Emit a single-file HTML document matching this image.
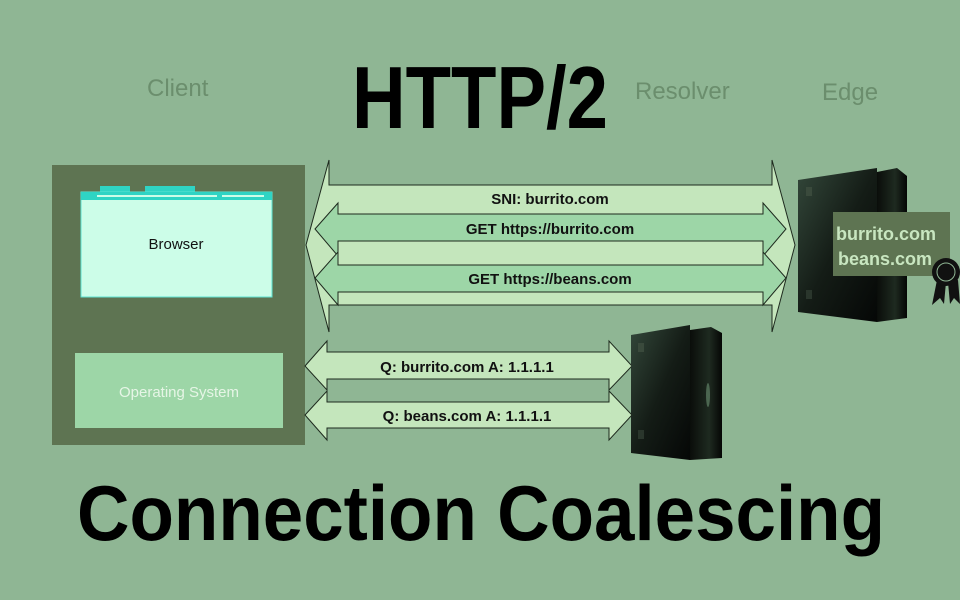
<!DOCTYPE html>
<html><head><meta charset="utf-8"><style>
html,body{margin:0;padding:0;background:#8fb694;}
svg{display:block}
</style></head><body>
<svg width="960" height="600" viewBox="0 0 960 600" xmlns="http://www.w3.org/2000/svg">
<defs>
<linearGradient id="srv" x1="0" y1="0" x2="1" y2="1">
<stop offset="0" stop-color="#33473a"/><stop offset="0.5" stop-color="#141c16"/><stop offset="1" stop-color="#050706"/>
</linearGradient>
<linearGradient id="side" x1="0" y1="0" x2="1" y2="0">
<stop offset="0" stop-color="#0a0d0a"/><stop offset="0.6" stop-color="#1e2a20"/><stop offset="1" stop-color="#050605"/>
</linearGradient>
</defs>
<rect width="960" height="600" fill="#8fb694"/>
<g font-family="Liberation Sans, sans-serif" fill="#6b8e6d" font-size="24">
<text x="147" y="96">Client</text>
<text x="635" y="99">Resolver</text>
<text x="822" y="100">Edge</text>
</g>
<text x="352" y="128" font-family="Liberation Sans, sans-serif" font-weight="bold" font-size="88" textLength="256" lengthAdjust="spacingAndGlyphs" fill="#000">HTTP/2</text>

<rect x="52" y="165" width="253" height="280" fill="#5e7452"/>
<rect x="100" y="186" width="30" height="6" fill="#2fd4c4"/>
<rect x="145" y="186" width="50" height="6" fill="#2fd4c4"/>
<rect x="81" y="192" width="191" height="105" fill="#ccfde8" stroke="#5de3d2" stroke-width="1"/>
<rect x="81" y="192" width="191" height="8" fill="#2fd4c4"/>
<rect x="97" y="195" width="120" height="2" fill="#ccfde8"/>
<rect x="222" y="195" width="42" height="2" fill="#ccfde8"/>
<text x="176" y="249" text-anchor="middle" font-family="Liberation Sans, sans-serif" font-size="15" fill="#111">Browser</text>
<rect x="75" y="353" width="208" height="75" fill="#9dd6a7"/>
<text x="179" y="397" text-anchor="middle" font-family="Liberation Sans, sans-serif" font-size="15" fill="#e6f5e6">Operating System</text>

<polygon points="306,245 329,160 329,185 772,185 772,160 795,245 772,332 772,305 329,305 329,332" fill="#c4e6bc" stroke="#1e2a1e" stroke-width="1"/>
<polygon points="315,229 338,203 338,214 763,214 763,203 786,229 763,256 763,241 338,241 338,256" fill="#9dd6a7" stroke="#1e2a1e" stroke-width="1"/>
<polygon points="315,278 338,252 338,265 763,265 763,252 786,278 763,305 763,292 338,292 338,305" fill="#9dd6a7" stroke="#1e2a1e" stroke-width="1"/>
<g font-family="Liberation Sans, sans-serif" font-size="15" font-weight="bold" fill="#111" text-anchor="middle">
<text x="550" y="204">SNI: burrito.com</text>
<text x="550" y="234">GET https://burrito.com</text>
<text x="550" y="284">GET https://beans.com</text>
</g>

<polygon points="305,366 327,341 327,352 609,352 609,341 632,366 609,390 609,379 327,379 327,390" fill="#c4e6bc" stroke="#1e2a1e" stroke-width="1"/>
<polygon points="305,415 327,391 327,402 609,402 609,391 632,415 609,440 609,428 327,428 327,440" fill="#c4e6bc" stroke="#1e2a1e" stroke-width="1"/>
<g font-family="Liberation Sans, sans-serif" font-size="15" font-weight="bold" fill="#111" text-anchor="middle">
<text x="467" y="372">Q: burrito.com A: 1.1.1.1</text>
<text x="467" y="421">Q: beans.com A: 1.1.1.1</text>
</g>

<polygon points="690,330 711,327 722,333 722,458 690,460" fill="url(#side)"/>
<polygon points="631,335 690,325 690,460 631,453" fill="url(#srv)"/>
<rect x="638" y="343" width="6" height="9" fill="#3a4a3c"/>
<rect x="638" y="430" width="6" height="9" fill="#2a362c"/>
<ellipse cx="708" cy="395" rx="2" ry="12" fill="#6b8f72" opacity="0.6"/>

<polygon points="877,172 897,168 907,176 907,318 877,322" fill="url(#side)"/>
<polygon points="798,180 877,168 877,322 798,312" fill="url(#srv)"/>
<rect x="806" y="187" width="6" height="9" fill="#3a4a3c"/>
<rect x="806" y="290" width="6" height="9" fill="#2a362c"/>
<rect x="833" y="212" width="117" height="64" fill="#5e7452"/>
<g font-family="Liberation Sans, sans-serif" font-weight="bold" font-size="18" fill="#c8e6c0">
<text x="836" y="240">burrito.com</text>
<text x="838" y="265">beans.com</text>
</g>
<polygon points="937,280 932,305 940,298 944,304 946,282" fill="#111"/>
<polygon points="948,282 950,304 954,298 960,304 958,280" fill="#111"/>
<circle cx="946" cy="272" r="14" fill="#111"/>
<circle cx="946" cy="272" r="9" fill="none" stroke="#8fb694" stroke-width="1"/>

<text x="77" y="540" font-family="Liberation Sans, sans-serif" font-weight="bold" font-size="78" textLength="808" lengthAdjust="spacingAndGlyphs" fill="#000">Connection Coalescing</text>
</svg>
</body></html>
